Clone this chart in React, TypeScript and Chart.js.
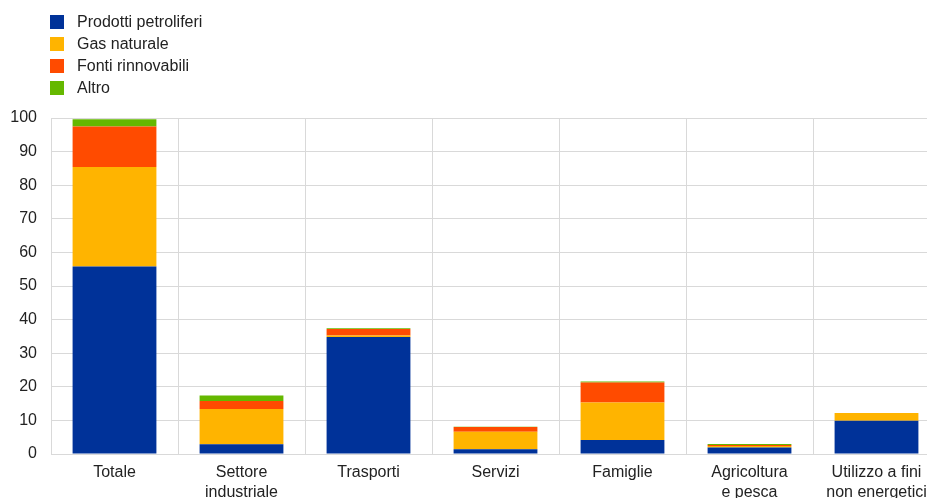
import React, { useEffect, useRef } from "react";
import { Chart, registerables } from "chart.js";

Chart.register(...registerables);

const categories: (string | string[])[] = [
  "Totale",
  ["Settore", "industriale"],
  "Trasporti",
  "Servizi",
  "Famiglie",
  ["Agricoltura", "e pesca"],
  ["Utilizzo a fini", "non energetici"],
];

const prodottiPetroliferi = [55.8, 2.9, 34.8, 1.4, 4.2, 1.9, 9.9];
const gasNaturale = [29.6, 10.5, 0.5, 5.2, 11.1, 0.5, 2.3];
const fontiRinnovabili = [12.1, 2.4, 1.9, 1.4, 6.0, 0.3, 0];
const altro = [2.1, 1.6, 0.2, 0.1, 0.3, 0.3, 0];

const seriesNames = ["Prodotti petroliferi", "Gas naturale", "Fonti rinnovabili", "Altro"];
const seriesColors = ["#003299", "#FFB400", "#FF4B00", "#65B800"];
const yTicks = [0, 10, 20, 30, 40, 50, 60, 70, 80, 90, 100];

const FONT = "Arial, 'Liberation Sans', sans-serif";

export default function App() {
  const ref = useRef<HTMLCanvasElement | null>(null);

  useEffect(() => {
    if (!ref.current) return;
    const values = [prodottiPetroliferi, gasNaturale, fontiRinnovabili, altro];
    const chart = new Chart(ref.current, {
      type: "bar",
      data: {
        labels: categories,
        datasets: values.map((v, i) => ({
          label: seriesNames[i],
          data: v,
          backgroundColor: seriesColors[i],
          borderWidth: 0,
          categoryPercentage: 0.66,
          barPercentage: 1,
        })),
      },
      options: {
        animation: false,
        responsive: false,
        maintainAspectRatio: false,
        layout: { padding: { left: 0, right: 20, top: 118, bottom: 0 } },
        plugins: { legend: { display: false }, tooltip: { enabled: false } },
        scales: {
          x: {
            stacked: true,
            grid: { color: "#d9d9d9", drawTicks: false, offset: true },
            border: { color: "#d9d9d9" },
            ticks: {
              color: "#222",
              font: { family: FONT, size: 16, lineHeight: 1.22 },
              padding: 9,
              maxRotation: 0,
              autoSkip: false,
            },
            afterFit: (s: any) => {
              s.height = 44;
            },
          },
          y: {
            stacked: true,
            min: 0,
            max: 100,
            afterBuildTicks: (s: any) => {
              s.ticks = yTicks.map((v) => ({ value: v }));
            },
            grid: { color: "#d9d9d9", drawTicks: false },
            border: { color: "#d9d9d9" },
            ticks: {
              color: "#222",
              font: { family: FONT, size: 16 },
              padding: 14,
            },
            afterFit: (s: any) => {
              s.width = 51;
            },
          },
        },
      },
    });
    return () => chart.destroy();
  }, []);

  return (
    <div style={{ position: "fixed", left: 0, top: 0, width: 927, height: 498, overflow: "hidden", background: "#fff" }}>
      <canvas ref={ref} width={960} height={498} style={{ position: "absolute", left: 0, top: 0, width: 960, height: 498 }} />
      <div style={{ position: "absolute", left: 50, top: 11, fontFamily: FONT, fontSize: 16, color: "#222" }}>
        {seriesNames.map((n, i) => (
          <div key={n} style={{ display: "flex", alignItems: "center", height: 22 }}>
            <span style={{ display: "inline-block", width: 14, height: 14, background: seriesColors[i], marginRight: 13 }} />
            <span>{n}</span>
          </div>
        ))}
      </div>
    </div>
  );
}
